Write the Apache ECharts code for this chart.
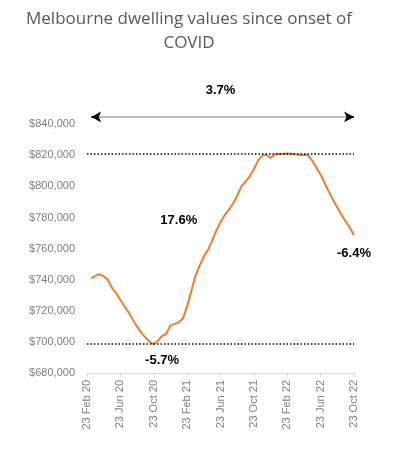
<!DOCTYPE html>
<html>
<head>
<meta charset="utf-8">
<script src="https://cdn.jsdelivr.net/npm/echarts@6/dist/echarts.min.js"></script>
<style>
  html, body { margin: 0; padding: 0; background: #fff; }
  #main { width: 398px; height: 450px; }
</style>
</head>
<body>
<div id="main"></div>
<script>
// semi-monthly points, labels shown every 4 months
var dates = [
  "23 Feb 20", "8 Mar 20", "23 Mar 20", "8 Apr 20", "23 Apr 20", "8 May 20", "23 May 20", "8 Jun 20",
  "23 Jun 20", "8 Jul 20", "23 Jul 20", "8 Aug 20", "23 Aug 20", "8 Sep 20", "23 Sep 20", "8 Oct 20",
  "23 Oct 20", "8 Nov 20", "23 Nov 20", "8 Dec 20", "23 Dec 20", "8 Jan 21", "23 Jan 21", "8 Feb 21",
  "23 Feb 21", "8 Mar 21", "23 Mar 21", "8 Apr 21", "23 Apr 21", "8 May 21", "23 May 21", "8 Jun 21",
  "23 Jun 21", "8 Jul 21", "23 Jul 21", "8 Aug 21", "23 Aug 21", "8 Sep 21", "23 Sep 21", "8 Oct 21",
  "23 Oct 21", "8 Nov 21", "23 Nov 21", "8 Dec 21", "23 Dec 21", "8 Jan 22", "23 Jan 22", "8 Feb 22",
  "23 Feb 22", "8 Mar 22", "23 Mar 22", "8 Apr 22", "23 Apr 22", "8 May 22", "23 May 22", "8 Jun 22",
  "23 Jun 22", "8 Jul 22", "23 Jul 22", "8 Aug 22", "23 Aug 22", "8 Sep 22", "23 Sep 22", "8 Oct 22",
  "23 Oct 22"
];

var values = [
  null, 740700, 742500, 743500, 742200, 740000, 734800, 731400,
  727000, 722800, 719000, 714300, 709800, 706000, 702800, 700000,
  698600, 700800, 703800, 705200, 710500, 711600, 712500, 715000,
  723000, 732500, 742500, 749000, 755000, 759000, 765000, 771500,
  777000, 781500, 785000, 789000, 794000, 800000, 803000, 806500,
  811000, 816500, 819800, 820300, 818300, 820500, 820800, 821000,
  821100, 821000, 820600, 820200, 820300, 820000, 816500, 812000,
  807500, 802000, 796500, 791300, 786500, 781600, 777500, 773500,
  768600
];

// change annotations: [text, category index, y value]
var notes = [
  ["3.7%", 31.9, 861900],
  ["17.6%", 22.3, 778200],
  ["-6.4%", 64.2, 757000],
  ["-5.7%", 17.5, 688100]
];
var arrowY = 844700;
var labelTop = 840000; // no tick labels above this

var chartDom = document.getElementById("main");
var myChart = echarts.init(chartDom);

var dotted = { color: "#000", type: [1.5, 2], width: 1.5 };
var head = { color: "#000", type: "solid", width: 1.5 };

var option = {
  animation: false,
  title: {
    text: "Melbourne dwelling values since onset of\nCOVID",
    left: 184,
    top: 2,
    textAlign: "center",
    textStyle: {
      fontFamily: "Open Sans",
      fontWeight: "normal",
      fontSize: 17,
      lineHeight: 24,
      color: "#595959",
    },
  },
  grid: { left: 87, right: 44, top: 62, bottom: 77 },
  xAxis: {
    type: "category",
    data: dates,
    boundaryGap: false,
    axisLine: { lineStyle: { color: "#d9d9d9", width: 1 } },
    axisTick: { interval: 7, length: 4, lineStyle: { color: "#d9d9d9" } },
    axisLabel: {
      interval: 7,
      rotate: 90,
      margin: 7,
      color: "#7f7f7f",
      fontFamily: "Liberation Sans",
      fontSize: 11,
    },
  },
  yAxis: {
    type: "value",
    min: 680000,
    max: 880000,
    interval: 20000,
    axisLine: { show: false },
    axisTick: { show: false },
    splitLine: { show: false },
    axisLabel: {
      margin: 12,
      color: "#7f7f7f",
      fontFamily: "Liberation Sans",
      fontSize: 11,
      formatter: function (v) {
        return v > labelTop ? "" : "$" + v.toLocaleString("en-US");
      },
    },
  },
  series: [
    {
      type: "line",
      data: values,
      showSymbol: false,
      lineStyle: { color: "#ed7d31", width: 2 },
      markLine: {
        silent: true,
        symbol: ["none", "none"],
        label: { show: false },
        data: [
          { type: "max", lineStyle: dotted },
          { type: "min", lineStyle: dotted },
          // grey shaft
          [
            { coord: [1.6, arrowY], lineStyle: { color: "#a6a6a6", type: "solid", width: 1.5 } },
            { coord: [63.4, arrowY] },
          ],
          // black heads
          [
            { coord: [1.2, arrowY], symbol: "arrow", symbolSize: [8, 10], lineStyle: head },
            { coord: [1.8, arrowY], symbol: "none" },
          ],
          [
            { coord: [63.2, arrowY], symbol: "none", lineStyle: head },
            { coord: [63.8, arrowY], symbol: "arrow", symbolSize: [8, 10] },
          ],
        ],
      },
      markPoint: {
        silent: true,
        symbol: "circle",
        symbolSize: 0,
        label: {
          show: true,
          position: "inside",
          color: "#000",
          fontFamily: "Liberation Sans",
          fontWeight: "bold",
          fontSize: 13,
          formatter: "{b}",
        },
        data: notes.map(function (n) {
          return { name: n[0], coord: [n[1], n[2]] };
        }),
      },
    },
  ],
};

option && myChart.setOption(option);
</script>
</body>
</html>
